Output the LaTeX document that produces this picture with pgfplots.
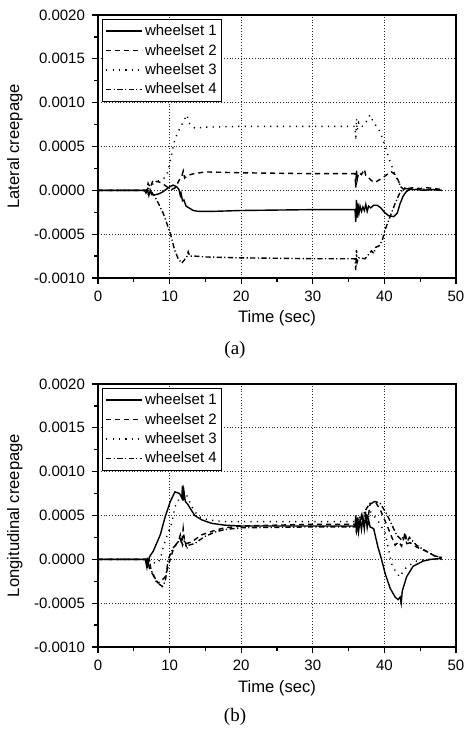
\documentclass[border=0pt]{standalone}
\usepackage{fontspec}
\setmainfont{Liberation Sans}
\newfontfamily\timesfont{Liberation Serif}
\usepackage{pgfplots}
\pgfplotsset{compat=1.18}
\pgfplotsset{
  creep/.style={
    scale only axis, width=179pt, height=131.5pt,
    xmin=0, xmax=50, ymin=-0.001, ymax=0.002,
    xtick={0,10,20,30,40,50},
    ytick={-0.001,-0.0005,0,0.0005,0.001,0.0015,0.002},
    minor x tick num=1, minor y tick num=1,
    tick pos=left, tick align=outside,
    major tick length=3pt, minor tick length=1.8pt,
    grid=major, major grid style={densely dotted, line width=0.4pt, black!85},
    axis line style={line width=0.8pt},
    every tick/.style={black, line width=0.6pt},
    scaled y ticks=false,
    yticklabel style={/pgf/number format/.cd, fixed, fixed zerofill, precision=4, assume math mode=true},
    xticklabel style={/pgf/number format/assume math mode=true},
    tick label style={font=\fontsize{7.5}{9}\selectfont},
    label style={font=\fontsize{8.3}{10}\selectfont},
    xlabel={Time (sec)},
    xlabel style={at={(axis description cs:0.5,-0.152)}, anchor=center},
    ylabel style={at={(axis description cs:-0.232,0.5)}, anchor=center},
    legend style={at={(axis description cs:0.011,0.985)}, anchor=north west,
      draw=black, line width=0.5pt, font=\fontsize{7.5}{9}\selectfont,
      inner xsep=1.5pt, inner ysep=1pt,
      nodes={inner sep=1.1pt, text height=6pt, text depth=1.5pt},
      cells={anchor=west}},
    legend image code/.code={\draw[#1, line width=0.7pt] (0pt,0pt) -- (18pt,0pt);},
  },
  ws1/.style={black, line width=0.7pt, solid},
  ws2/.style={black, line width=0.7pt, dash pattern=on 2.5pt off 2pt},
  ws3/.style={black, line width=0.7pt, dash pattern=on 0.6pt off 2.6pt},
  ws4/.style={black, line width=0.7pt, dash pattern=on 2.6pt off 1.2pt on 0.6pt off 1.2pt},
}
\begin{document}
\begin{tikzpicture}
\path[use as bounding box] (-49pt,-41pt) rectangle (183.5pt,323.5pt);
% ---------------- (a) lateral ----------------
\begin{axis}[creep, name=A, at={(0,184.5pt)}, anchor=south west, ylabel={Lateral creepage}]
\addplot[ws1] coordinates {(0,0.00010)(0.03,-0.00085)(0.06,0.00002)(0.1,0)(6.5,0)(6.7,-0.00003)(6.9,0.00001)(7.1,-0.00006)(7.3,0)(7.5,-0.00005)(8,-0.00005)(8.5,-0.00004)(9,-0.00002)(9.5,0.00001)(10,0.00004)(10.5,0.00006)(11,0.00004)(11.3,0.00001)(11.5,-0.00006)(11.6,-0.00003)(11.8,-0.00012)(12.0,-0.00011)(12.3,-0.00018)(12.7,-0.00020)(13.3,-0.00023)(14,-0.00024)(16,-0.00024)(20,-0.00023)(30,-0.00022)(35.9,-0.00022)(36.0,-0.00036)(36.1,-0.00011)(36.2,-0.00031)(36.3,-0.00015)(36.45,-0.00026)(36.6,-0.00018)(36.8,-0.00024)(37.0,-0.00019)(37.2,-0.00023)(37.4,-0.00016)(37.6,-0.00024)(37.8,-0.00018)(38.1,-0.00020)(38.5,-0.00017)(39,-0.00017)(39.5,-0.00020)(40,-0.00025)(40.6,-0.00029)(41.3,-0.00030)(41.8,-0.00026)(42.2,-0.00015)(42.6,-0.00007)(43,-0.00002)(43.5,0.00001)(44.5,0.00001)(45.5,0)(46.5,0.00001)(48,0)};
\addlegendentry{wheelset 1}
\addplot[ws2] coordinates {(0,0)(6.8,0)(7.0,0.00008)(7.3,0.00003)(7.7,0.00012)(8.2,0.00010)(8.8,0.00009)(9.3,0.00006)(9.8,0.00003)(10.3,0.00001)(10.8,0.00003)(11.3,0.00011)(11.7,0.00016)(11.9,0.00022)(12.1,0.00014)(12.5,0.00017)(13.4,0.00019)(15,0.00021)(20,0.00020)(30,0.00019)(35.9,0.00019)(36.0,0.00003)(36.1,0.00023)(36.2,0.00012)(36.4,0.00020)(36.8,0.00018)(37.2,0.00024)(37.4,0.00017)(37.7,0.00015)(38.2,0.00011)(38.7,0.00009)(39.3,0.00012)(39.9,0.00015)(40.5,0.00019)(41.0,0.00021)(41.5,0.00018)(41.9,0.00012)(42.3,0.00004)(42.7,0.00001)(43.2,0.00002)(44,0.00003)(45,0.00002)(46,0.00003)(47,0.00002)(48,0.00001)};
\addlegendentry{wheelset 2}
\addplot[ws3] coordinates {(0,0)(7,0)(7.3,0.00005)(7.8,0.00008)(8.5,0.00011)(9.1,0.00013)(9.6,0.00017)(10.0,0.00030)(10.3,0.00042)(10.7,0.00057)(11.2,0.00067)(11.9,0.00078)(12.4,0.00086)(12.8,0.00076)(13.5,0.00071)(15,0.00072)(20,0.00073)(30,0.00073)(35.9,0.00073)(36.0,0.00057)(36.1,0.00082)(36.2,0.00068)(36.4,0.00077)(36.7,0.00072)(37.1,0.00074)(37.6,0.00080)(38.0,0.00086)(38.4,0.00079)(38.8,0.00074)(39.4,0.00067)(40.1,0.00050)(40.8,0.00033)(41.5,0.00017)(42.2,0.00006)(42.8,0.00003)(44,0.00002)(46,0.00001)(48,0)};
\addlegendentry{wheelset 3}
\addplot[ws4] coordinates {(0,0)(6.8,0)(7.0,-0.00004)(7.5,-0.00002)(8.2,-0.00011)(9.1,-0.00026)(10.1,-0.00049)(10.7,-0.00068)(11.2,-0.00078)(11.7,-0.00083)(12.1,-0.00079)(12.4,-0.00076)(12.6,-0.00070)(12.8,-0.00075)(13.5,-0.00075)(15,-0.00076)(20,-0.00077)(30,-0.00078)(35.9,-0.00078)(36.0,-0.00091)(36.1,-0.00068)(36.2,-0.00082)(36.4,-0.00077)(37.3,-0.00078)(37.8,-0.00073)(38.2,-0.00069)(38.5,-0.00072)(38.8,-0.00065)(39.3,-0.00063)(39.7,-0.00057)(40.1,-0.00045)(40.8,-0.00030)(41.5,-0.00015)(42.2,-0.00002)(42.9,0.00002)(44,0.00001)(46,0.00001)(48,0)};
\addlegendentry{wheelset 4}
\end{axis}
\node[font=\timesfont\fontsize{9.5}{11}\selectfont] at ([xshift=68.5pt,yshift=-36pt]A.south west) {(a)};
% ---------------- (b) longitudinal ----------------
\begin{axis}[creep, name=B, at={(0,0)}, anchor=south west, ylabel={Longitudinal creepage},
  xlabel style={at={(axis description cs:0.5,-0.156)}, anchor=center}]
\addplot[ws1] coordinates {(0,0.00028)(0.03,-0.00027)(0.06,0)(6.6,0)(6.8,-0.00008)(6.9,0.00002)(7.0,-0.00006)(7.2,0.00003)(7.7,0.00009)(8.7,0.00028)(9.4,0.00049)(10.1,0.00066)(10.75,0.00077)(11.4,0.00075)(11.7,0.00070)(11.8,0.00084)(11.9,0.00067)(12.0,0.00078)(12.2,0.00066)(12.6,0.00062)(13.5,0.00050)(14.5,0.00045)(15.9,0.00041)(17.7,0.00039)(20,0.00038)(30,0.00038)(35.9,0.00038)(36.0,0.00050)(36.1,0.00030)(36.25,0.00047)(36.4,0.00032)(36.6,0.00045)(36.8,0.00034)(37.0,0.00048)(37.2,0.00035)(37.4,0.00052)(37.6,0.00036)(37.8,0.00045)(38.0,0.00037)(38.5,0.00035)(39.1,0.00014)(39.6,0.00000)(40.1,-0.00016)(40.8,-0.00033)(41.5,-0.00043)(41.9,-0.00046)(42.2,-0.00043)(42.35,-0.00050)(42.5,-0.00036)(43.1,-0.00020)(44.0,-0.00008)(45.4,-0.00002)(46.5,0)(48,0.00001)};
\addlegendentry{wheelset 1}
\addplot[ws2] coordinates {(0,0)(6.8,0)(7.0,-0.00005)(7.3,-0.00012)(7.7,-0.00018)(8.0,-0.00024)(8.4,-0.00027)(8.8,-0.00025)(9.4,-0.00020)(9.8,-0.00008)(10.5,0.00011)(11.0,0.00018)(11.45,0.00024)(11.7,0.00018)(11.9,0.00035)(12.1,0.00020)(12.4,0.00018)(13.1,0.00020)(14.5,0.00028)(16.3,0.00033)(17.7,0.00036)(20,0.00038)(30,0.00040)(35.9,0.00040)(36.1,0.00032)(36.3,0.00048)(36.5,0.00036)(36.8,0.00050)(37.1,0.00040)(37.4,0.00055)(37.7,0.00046)(38.0,0.00063)(38.7,0.00066)(39.4,0.00057)(40.3,0.00040)(41.0,0.00026)(41.5,0.00016)(42.0,0.00020)(42.4,0.00015)(42.9,0.00030)(43.2,0.00018)(43.6,0.00019)(44.5,0.00014)(45.9,0.00009)(47,0.00004)(48,0.00002)};
\addlegendentry{wheelset 2}
\addplot[ws3] coordinates {(0,0)(7,0)(7.2,-0.00008)(7.6,-0.00003)(8.2,-0.00005)(8.7,0)(9.1,0.00014)(9.6,0.00026)(10.3,0.00041)(10.75,0.00060)(11.45,0.00071)(12.0,0.00075)(12.4,0.00073)(13.1,0.00060)(14.0,0.00049)(15.4,0.00045)(17.7,0.00043)(20,0.00043)(30,0.00043)(35.9,0.00043)(36.2,0.00038)(36.5,0.00050)(36.9,0.00040)(37.3,0.00054)(37.7,0.00045)(38.0,0.00055)(38.5,0.00050)(39.1,0.00044)(40.1,0.00030)(40.6,0.00011)(41.0,-0.00005)(41.7,-0.00016)(42.2,-0.00020)(42.7,-0.00012)(43.4,-0.00007)(44.5,-0.00002)(46,0)(48,0)};
\addlegendentry{wheelset 3}
\addplot[ws4] coordinates {(0,0)(7.2,0)(7.4,-0.00012)(8.0,-0.00022)(8.5,-0.00028)(9.0,-0.00031)(9.4,-0.00025)(9.8,0)(10.5,0.00013)(11.2,0.00020)(11.5,0.00028)(11.8,0.00016)(12.1,0.00022)(12.4,0.00012)(12.6,0.00016)(13.5,0.00018)(14.9,0.00026)(16.3,0.00031)(17.7,0.00034)(20,0.00036)(30,0.00037)(35.9,0.00037)(36.5,0.00042)(37.0,0.00050)(37.5,0.00058)(38.0,0.00064)(38.7,0.00066)(39.4,0.00064)(40.3,0.00052)(41.0,0.00040)(41.7,0.00028)(42.4,0.00022)(42.8,0.00028)(43.1,0.00019)(43.5,0.00025)(44.5,0.00016)(45.9,0.00009)(47,0.00004)(48,0.00002)};
\addlegendentry{wheelset 4}
\end{axis}
\node[font=\timesfont\fontsize{9.5}{11}\selectfont] at ([xshift=68.5pt,yshift=-35pt]B.south west) {(b)};
\end{tikzpicture}
\end{document}
